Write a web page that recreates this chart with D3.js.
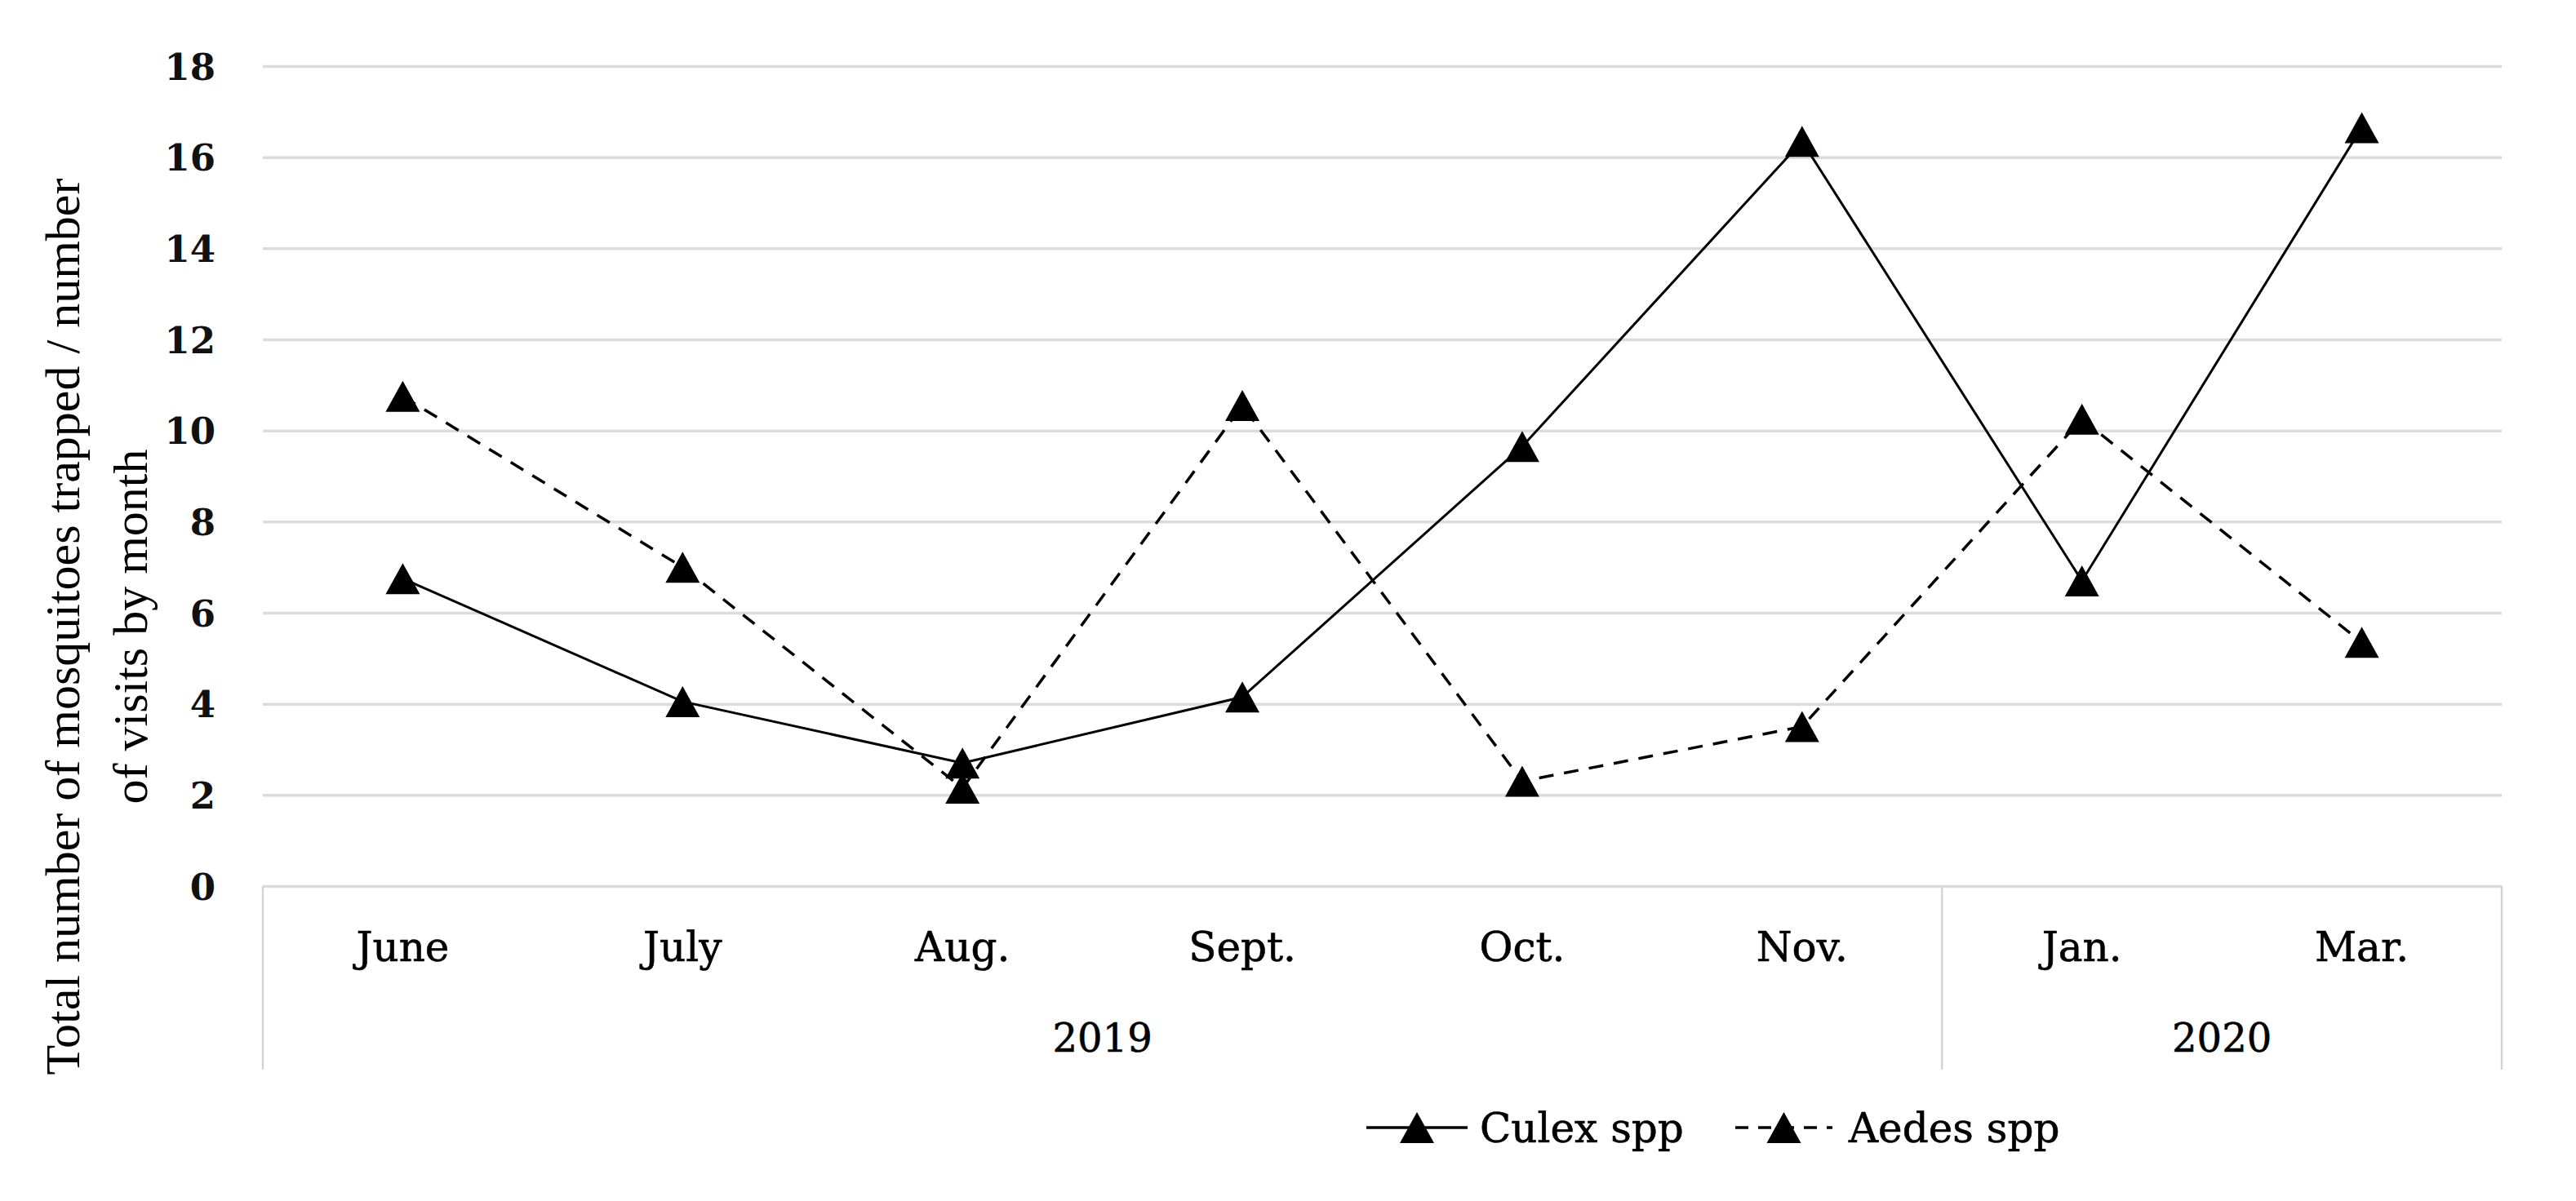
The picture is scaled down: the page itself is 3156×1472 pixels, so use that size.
<!DOCTYPE html>
<html>
<head>
<meta charset="utf-8">
<script src="https://cdn.jsdelivr.net/npm/d3@7"></script>
<style>
  body { margin: 0; background: #fff; }
  svg { display: block; }
</style>
</head>
<body>
<script>
var months = ['June', 'July', 'Aug.', 'Sept.', 'Oct.', 'Nov.', 'Jan.', 'Mar.'];
var yearLabels = ['2019', '2020'];
var yearSpans = [6, 2];
var culex = [6.75, 4.05, 2.7, 4.15, 9.65, 16.35, 6.7, 16.65];
var aedes = [10.75, 7.0, 2.15, 10.55, 2.3, 3.5, 10.25, 5.35];
var yTicks = [0, 2, 4, 6, 8, 10, 12, 14, 16, 18];
var seriesNames = ['Culex spp', 'Aedes spp'];

var width = 3156;
var height = 1472;
var plotLeft = 322, plotRight = 3065, plotTop = 81, zeroY = 1086, boxBottom = 1311;

var svg = d3.select('body').append('svg')
  .attr('width', width)
  .attr('height', height);

svg.append('rect').attr('width', width).attr('height', height).attr('fill', '#fff');

var x = d3.scaleBand().domain(months).range([plotLeft, plotRight]);
var y = d3.scaleLinear().domain([0, 18]).range([zeroY, plotTop]);

// triangle marker centred on its box
var triangle = {
  draw: function(ctx, size) {
    var w = 42, h = 38;
    ctx.moveTo(0, -h / 2);
    ctx.lineTo(w / 2, h / 2);
    ctx.lineTo(-w / 2, h / 2);
    ctx.closePath();
  }
};

// gridlines
svg.append('g')
  .attr('transform', 'translate(' + plotLeft + ',0)')
  .call(d3.axisLeft(y).tickValues(yTicks).tickSize(-(plotRight - plotLeft)).tickFormat(''))
  .call(function(g) {
    g.select('.domain').remove();
    g.selectAll('line').attr('stroke', '#dcdcdc').attr('stroke-width', 3.5);
  });

// y tick labels
svg.append('g')
  .attr('transform', 'translate(264,0)')
  .call(d3.axisLeft(y).tickValues(yTicks).tickSize(0).tickPadding(0))
  .call(function(g) {
    g.select('.domain').remove();
    g.selectAll('text')
      .attr('font-family', 'DejaVu Serif')
      .attr('font-weight', 'bold')
      .attr('font-size', 45)
      .attr('fill', '#111')
      .attr('dy', '0.36em');
  });

// category box
var box = svg.append('g').attr('stroke', '#d4d4d4').attr('stroke-width', 2.5);
var cum = 0;
var seps = [0];
yearSpans.forEach(function(n) { cum += n; seps.push(cum); });
seps.forEach(function(i) {
  var xx = i < months.length ? x(months[i]) : x(months[months.length - 1]) + x.bandwidth();
  box.append('line').attr('x1', xx).attr('x2', xx).attr('y1', zeroY).attr('y2', boxBottom);
});

// month labels
svg.append('g')
  .attr('transform', 'translate(0,' + zeroY + ')')
  .call(d3.axisBottom(x).tickSize(0))
  .call(function(g) {
    g.select('.domain').remove();
    g.selectAll('text')
      .attr('y', 92)
      .attr('dy', 0)
      .attr('font-family', 'DejaVu Serif')
      .attr('font-size', 50)
      .attr('fill', '#000')
      .attr('stroke', '#000')
      .attr('stroke-width', 0.6);
  });

// year labels
yearLabels.forEach(function(label, i) {
  var a = x(months[seps[i]]);
  var lastIdx = seps[i + 1] - 1;
  var b = x(months[lastIdx]) + x.bandwidth();
  svg.append('text')
    .attr('x', (a + b) / 2)
    .attr('y', 1289)
    .attr('text-anchor', 'middle')
    .attr('font-family', 'DejaVu Serif')
    .attr('font-size', 48)
    .attr('fill', '#000')
    .attr('stroke', '#000')
    .attr('stroke-width', 0.6)
    .text(label);
});

// series
var line = d3.line()
  .x(function(d, i) { return x(months[i]) + x.bandwidth() / 2; })
  .y(function(d) { return y(d); });

function drawSeries(values, dash) {
  svg.append('path')
    .datum(values)
    .attr('d', line)
    .attr('fill', 'none')
    .attr('stroke', '#000')
    .attr('stroke-width', dash ? 3.5 : 3)
    .attr('stroke-dasharray', dash);

  svg.append('g').selectAll('path')
    .data(values)
    .enter()
      .append('path')
      .attr('d', d3.symbol().type(triangle))
      .attr('fill', '#000')
      .attr('transform', function(d, i) {
        return 'translate(' + (x(months[i]) + x.bandwidth() / 2) + ',' + y(d) + ')';
      });
}

drawSeries(culex, null);
drawSeries(aedes, '18,13');

// y axis title
var title = svg.append('text')
  .attr('transform', 'translate(97,768) rotate(-90)')
  .attr('text-anchor', 'middle')
  .attr('font-family', 'Liberation Serif')
  .attr('font-size', 60)
  .attr('fill', '#000');
title.append('tspan').attr('x', 0).attr('y', 0).text('Total number of mosquitoes trapped / number');
title.append('tspan').attr('x', 0).attr('y', 83).text('of visits by month');

// legend
var legend = svg.append('g');
var legendItems = [
  { x1: 1674, x2: 1798, tx: 1813, dash: null },
  { x1: 2126, x2: 2245, tx: 2265, dash: '16,12' }
];
legendItems.forEach(function(item, i) {
  legend.append('line')
    .attr('x1', item.x1).attr('x2', item.x2)
    .attr('y1', 1382).attr('y2', 1382)
    .attr('stroke', '#000')
    .attr('stroke-width', 3.5)
    .attr('stroke-dasharray', item.dash);
  legend.append('path')
    .attr('d', d3.symbol().type(triangle))
    .attr('fill', '#000')
    .attr('transform', 'translate(' + ((item.x1 + item.x2) / 2) + ',1382)');
  legend.append('text')
    .attr('x', item.tx)
    .attr('y', 1400)
    .attr('font-family', 'DejaVu Serif')
    .attr('font-size', 50)
    .attr('fill', '#000')
    .attr('stroke', '#000')
    .attr('stroke-width', 0.6)
    .text(seriesNames[i]);
});
</script>
</body>
</html>
